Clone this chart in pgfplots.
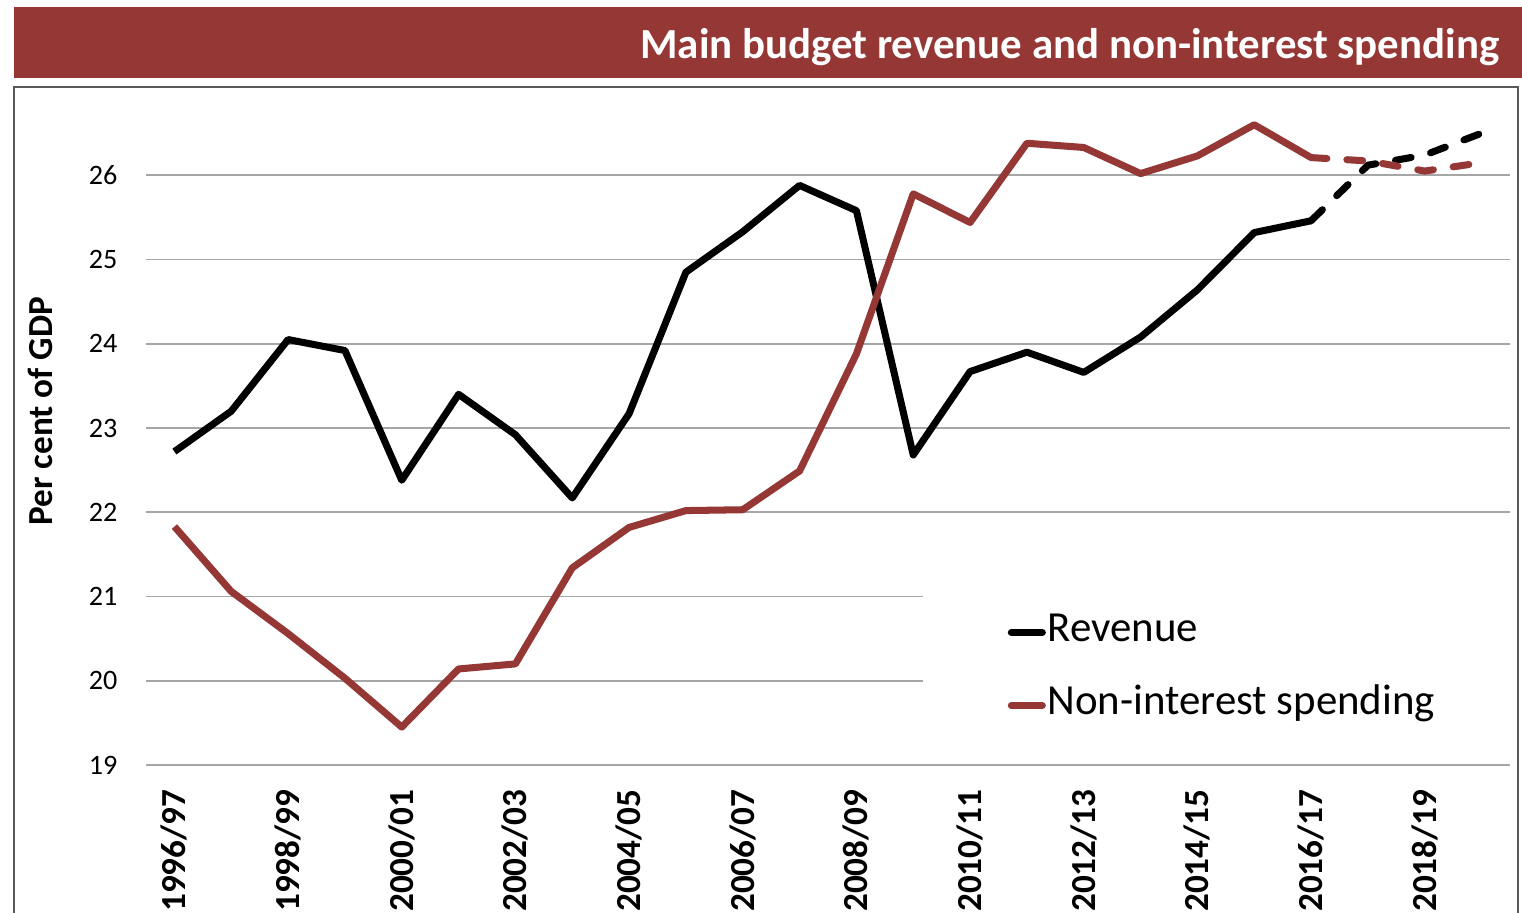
\documentclass[border=0pt]{standalone}
\usepackage{fontspec}
\setmainfont{Carlito}
\usepackage{pgfplots}
\pgfplotsset{compat=1.18}
\definecolor{budgetred}{HTML}{953735}
\definecolor{gridgray}{HTML}{A6A6A6}
\definecolor{framegray}{HTML}{595959}

\begin{document}
\begin{tikzpicture}
\useasboundingbox (0,0) rectangle (15.22,-9.13);
% title bar
\fill[budgetred] (0.14,-0.07) rectangle (15.22,-0.78);
\node[anchor=east, text=white, inner sep=0pt,
      font=\bfseries\fontsize{12.2}{14}\selectfont] at (15.0,-0.47)
      {Main budget revenue and non-interest spending};
\begin{axis}[
    at={(1.46cm,-7.65cm)}, anchor=south west,
    scale only axis, width=13.64cm, height=6.74cm,
    xmin=-0.5, xmax=23.5, ymin=19, ymax=27,
    axis line style={draw=none},
    tick style={draw=none},
    ytick={19,...,26},
    xtick={0,2,...,22},
    xticklabels={1996/97,1998/99,2000/01,2002/03,2004/05,2006/07,2008/09,2010/11,2012/13,2014/15,2016/17,2018/19},
    x tick label style={rotate=90, anchor=east, inner sep=0pt,
        font=\bfseries\fontsize{10}{11}\selectfont},
    xticklabel shift=0.24cm,
    y tick label style={inner sep=0pt, font=\fontsize{8}{9}\selectfont},
    yticklabel shift=0.28cm,
    /pgf/number format/assume math mode=true,
    ymajorgrids,
    grid style={gridgray, line width=0.5pt},
    ylabel={Per cent of GDP},
    ylabel style={at={(rel axis cs:-0.0777,0.525)}, anchor=center,
        font=\bfseries\fontsize{10}{12}\selectfont},
    legend cell align=left,
    legend image code/.code={\draw[#1, solid, line cap=round] (0.035cm,0cm) -- (0.345cm,0cm);},
    legend style={at={(0.569,0.266)}, anchor=north west, fill=white, draw=none,
        inner xsep=0.85cm, inner ysep=0.25cm, row sep=8.8pt,
        font=\fontsize{12.2}{14}\selectfont,
        nodes={inner sep=0.5pt, text height=8pt, text depth=3pt},
        /tikz/every even column/.append style={column sep=0pt}},
]
\addplot[black, line width=2pt, line join=round] coordinates {
    (0,22.72) (1,23.20) (2,24.05) (3,23.92) (4,22.38) (5,23.40)
    (6,22.92) (7,22.17) (8,23.17) (9,24.85) (10,25.33) (11,25.88)
    (12,25.58) (13,22.68) (14,23.67) (15,23.90) (16,23.66) (17,24.08)
    (18,24.64) (19,25.32) (20,25.46)
};
\addlegendentry{Revenue}
\addplot[budgetred, line width=2pt, line join=round] coordinates {
    (0,21.83) (1,21.06) (2,20.56) (3,20.03) (4,19.45) (5,20.14)
    (6,20.20) (7,21.34) (8,21.82) (9,22.02) (10,22.03) (11,22.49)
    (12,23.88) (13,25.78) (14,25.44) (15,26.38) (16,26.33) (17,26.02)
    (18,26.23) (19,26.60) (20,26.21)
};
\addlegendentry{Non-interest spending}
% projections
\addplot[black, line width=2pt, line cap=round, line join=round,
    dash pattern=on 4.5pt off 5.7pt, forget plot] coordinates {
    (20,25.46) (21,26.12) (22,26.24) (23,26.50)
};
\addplot[budgetred, line width=2pt, line cap=round, line join=round,
    dash pattern=on 4.5pt off 5.7pt, forget plot] coordinates {
    (20,26.21) (21,26.17) (22,26.05) (23,26.15)
};
\end{axis}
% chart frame
\draw[framegray, line width=0.6pt] (0.14,-0.87) rectangle (15.18,-9.6);
\end{tikzpicture}
\end{document}
